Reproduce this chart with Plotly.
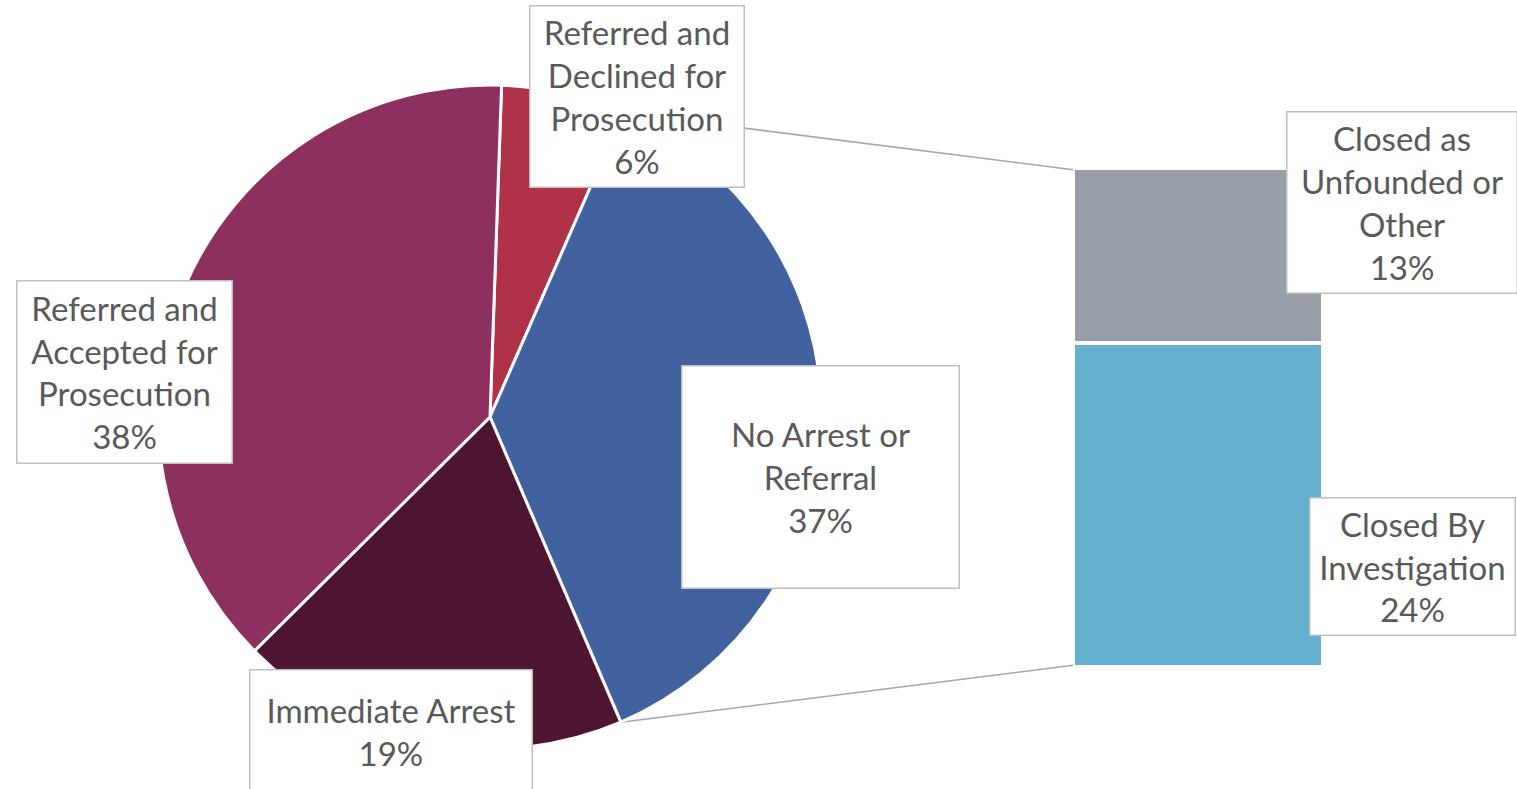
import math
import plotly.graph_objects as go

# ---- data ----
pie_labels = ["Referred and Declined for Prosecution", "No Arrest or Referral",
              "Immediate Arrest", "Referred and Accepted for Prosecution"]
pie_values = [6, 37, 19, 38]
pie_colors = ["#B03248", "#41629E", "#4E1533", "#8D3060"]

bar_labels = ["Closed By Investigation", "Closed as Unfounded or Other"]
bar_values = [24, 13]
bar_colors = ["#66B0CF", "#979EA7"]

W, H = 1517, 789
FONT = "Lato"
TXT = "#595959"

def px(x):
    return x / W

def py(y):
    return 1 - y / H

# pie geometry (pixels)
cx, cy, R = 490, 417, 332
rotation = 2

fig = go.Figure()
fig.add_trace(go.Pie(
    labels=pie_labels, values=pie_values, sort=False, direction="clockwise",
    rotation=rotation, textinfo="none", hoverinfo="label+percent",
    marker=dict(colors=pie_colors, line=dict(color="white", width=3)),
    domain=dict(x=[px(cx - R), px(cx + R)], y=[py(cy + R), py(cy - R)]),
    showlegend=False,
))

# bar of pie
bx0, bx1, by_top, by_bot = 1073, 1323, 168, 667
for lab, val, col in zip(bar_labels, bar_values, bar_colors):
    fig.add_trace(go.Bar(
        x=[0], y=[val], name=lab, width=1, marker=dict(color=col, line=dict(color="white", width=4)),
        xaxis="x2", yaxis="y2", showlegend=False,
    ))

total_bar = sum(bar_values)
fig.update_layout(
    barmode="stack",
    xaxis2=dict(domain=[px(bx0), px(bx1)], range=[-0.5, 0.5], visible=False, anchor="y2"),
    yaxis2=dict(domain=[py(by_bot), py(by_top)], range=[0, total_bar], visible=False, anchor="x2"),
)

# connector lines from the split slice edge to the bar corners
tot = sum(pie_values)
a_start = rotation + 360 * pie_values[0] / tot
a_end = rotation + 360 * (pie_values[0] + pie_values[1]) / tot
def edge(a):
    r = math.radians(a)
    return cx + R * math.sin(r), cy - R * math.cos(r)
p1 = edge(a_start)
p2 = edge(a_end)
bar_left = 1075
for (ex, ey), (tx, ty) in [(p1, (bar_left, 170)), (p2, (bar_left, 665))]:
    fig.add_shape(type="line", xref="paper", yref="paper",
                  x0=px(ex), y0=py(ey), x1=px(tx), y1=py(ty),
                  line=dict(color="#A6A6A6", width=1.5), layer="below")

# labels
labels_spec = [
    ("Referred and<br>Declined for<br>Prosecution<br>6%", 636.5, 97, 215, 182),
    ("Closed as<br>Unfounded or<br>Other<br>13%", 1401.5, 202, 231, 182),
    ("Referred and<br>Accepted for<br>Prosecution<br>38%", 124, 371.5, 216, 183),
    ("No Arrest or<br>Referral<br>37%", 821, 476.5, 278, 223),
    ("Closed By<br>Investigation<br>24%", 1412, 566, 206, 138),
    ("Immediate Arrest<br>19%", 390.5, 731, 283, 124),
]
for text, x, y, w, h in labels_spec:
    fig.add_annotation(
        text=text, x=px(x), y=py(y), xref="paper", yref="paper",
        xanchor="center", yanchor="middle", showarrow=False,
        width=w - 2, height=h - 2, borderpad=0,
        bgcolor="white", bordercolor="#BFBFBF", borderwidth=1.5,
        font=dict(family=FONT, size=33, color=TXT), align="center", valign="middle",
    )

fig.update_layout(
    width=W, height=H, margin=dict(l=0, r=0, t=0, b=0),
    paper_bgcolor="white", plot_bgcolor="white",
)
fig.write_html("out.html", config={"displayModeBar": False},
               post_script="document.body.style.margin='0';document.body.style.overflow='hidden';")
